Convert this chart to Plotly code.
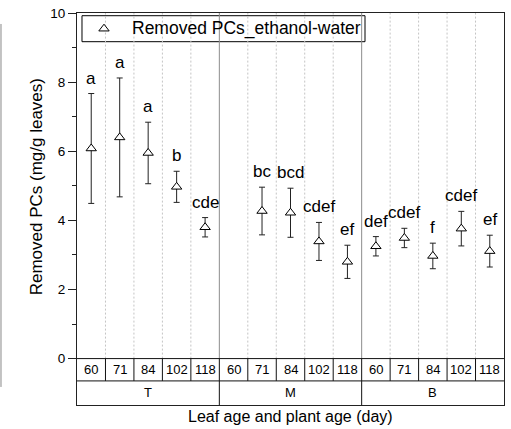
import plotly.graph_objects as go

# ---------------- data ----------------
groups = ["T", "M", "B"]
ages = ["60", "71", "84", "102", "118"]

mean_T = [6.08, 6.40, 5.95, 4.97, 3.80]
err_T = [1.59, 1.72, 0.89, 0.45, 0.28]
mean_M = [None, 4.27, 4.22, 3.39, 2.80]
err_M = [None, 0.69, 0.71, 0.55, 0.48]
mean_B = [3.25, 3.49, 2.97, 3.76, 3.11]
err_B = [0.28, 0.28, 0.37, 0.50, 0.46]

letters_T = ["a", "a", "a", "b", "cde"]
letters_M = ["", "bc", "bcd", "cdef", "ef"]
letters_B = ["def", "cdef", "f", "cdef", "ef"]

series_name = "Removed PCs_ethanol-water"
y_title = "Removed PCs (mg/g leaves)"
x_title = "Leaf age and plant age (day)"

# ---------------- build ----------------
means = mean_T + mean_M + mean_B
errs = [e if e is not None else 0 for e in (err_T + err_M + err_B)]
letters = letters_T + letters_M + letters_B
n = len(means)
ng = len(ages)
xs = [i + 0.5 for i in range(n)]

FONT = "Arial, Liberation Sans, sans-serif"
ROW1 = -0.646
YMIN = -1.343

MARKER = dict(symbol="triangle-up", size=9, color="white",
              line=dict(color="black", width=1))

fig = go.Figure()
fig.add_trace(go.Scatter(
    x=xs, y=means, mode="markers", name=series_name,
    marker=MARKER,
    error_y=dict(type="data", array=errs, visible=True,
                 color="#222", thickness=1, width=3),
    showlegend=False,
))

# legend key (drawn on an overlay axis spanning the plot area as [0,1])
LEG_X0, LEG_X1, LEG_Y0, LEG_Y1 = 0.0117, 0.6745, 0.9268, 0.9931
fig.add_trace(go.Scatter(
    x=[0.0632], y=[(LEG_Y0 + LEG_Y1) / 2], xaxis="x2", yaxis="y2",
    mode="markers", marker=MARKER, showlegend=False, hoverinfo="skip",
))

shapes = []
# vertical grid lines in plot area
for i in range(1, n):
    if i % ng == 0:
        shapes.append(dict(type="line", xref="x", yref="y", x0=i, x1=i, y0=0, y1=10,
                           line=dict(color="#8c8c8c", width=1), layer="below"))
    else:
        shapes.append(dict(type="line", xref="x", yref="y", x0=i, x1=i, y0=0, y1=10,
                           line=dict(color="#c4c4c4", width=1, dash="2px,2px"), layer="below"))
# legend box (on top of grid lines, below markers)
shapes.append(dict(type="rect", xref="x domain", yref="y domain",
                   x0=LEG_X0, x1=LEG_X1, y0=LEG_Y0, y1=LEG_Y1,
                   fillcolor="white", line=dict(color="black", width=1), layer="below"))
# table lines
shapes.append(dict(type="line", xref="x", yref="y", x0=0, x1=n, y0=0, y1=0,
                   line=dict(color="#111", width=1)))
shapes.append(dict(type="line", xref="x", yref="y", x0=0, x1=n, y0=ROW1, y1=ROW1,
                   line=dict(color="#111", width=1)))
for i in range(1, n):
    shapes.append(dict(type="line", xref="x", yref="y", x0=i, x1=i, y0=ROW1, y1=0,
                       line=dict(color="#111", width=1)))
    if i % ng == 0:
        shapes.append(dict(type="line", xref="x", yref="y", x0=i, x1=i, y0=YMIN, y1=ROW1,
                           line=dict(color="#111", width=1)))
# stray gray line at far left
shapes.append(dict(type="line", xref="paper", yref="paper", x0=-0.178, x1=-0.178,
                   y0=0.046, y1=0.972, line=dict(color="#888", width=1)))

annotations = []
# significance letters
for x, m, e, t in zip(xs, means, errs, letters):
    if m is None or not t:
        continue
    annotations.append(dict(x=x, y=m + e, xref="x", yref="y", text=t, showarrow=False,
                            xanchor="center", yanchor="bottom", yshift=4,
                            font=dict(family=FONT, size=17, color="black")))
# table text
for gi, g in enumerate(groups):
    for ai, a in enumerate(ages):
        annotations.append(dict(x=gi * ng + ai + 0.5, y=ROW1 / 2, xref="x", yref="y",
                                text=a, showarrow=False, xanchor="center", yanchor="middle",
                                font=dict(family=FONT, size=13, color="black")))
    annotations.append(dict(x=gi * ng + ng / 2, y=(ROW1 + YMIN) / 2, xref="x", yref="y",
                            text=g, showarrow=False, xanchor="center", yanchor="middle",
                            font=dict(family=FONT, size=13, color="black")))
# legend text
annotations.append(dict(x=0.1241, y=(LEG_Y0 + LEG_Y1) / 2, xref="paper", yref="paper",
                        text=series_name, showarrow=False, xanchor="left", yanchor="middle",
                        font=dict(family=FONT, size=17.5, color="black")))
# axis titles
annotations.append(dict(x=-0.0948, y=4.97, xref="paper", yref="y", text=y_title,
                        textangle=-90, showarrow=False, xanchor="center", yanchor="middle",
                        font=dict(family=FONT, size=17, color="black")))
annotations.append(dict(x=0.5, y=-0.03, xref="paper", yref="paper", text=x_title,
                        showarrow=False, xanchor="center", yanchor="middle",
                        font=dict(family=FONT, size=16, color="black")))

fig.update_layout(
    width=511, height=429,
    margin=dict(l=77, r=7, t=13, b=24, pad=0),
    paper_bgcolor="white", plot_bgcolor="white",
    font=dict(family=FONT, size=13, color="black"),
    shapes=shapes, annotations=annotations,
    showlegend=False,
    xaxis=dict(range=[0, n], showgrid=False, zeroline=False, showticklabels=False,
               ticks="", showline=True, linecolor="#222", linewidth=1, mirror=True,
               automargin=False),
    yaxis=dict(range=[YMIN, 10], showgrid=False, zeroline=False,
               tickmode="array", tickvals=[0, 2, 4, 6, 8, 10],
               ticks="outside", ticklen=8, tickwidth=1, tickcolor="#222",
               tickfont=dict(family=FONT, size=13.5, color="black"),
               showline=True, linecolor="#222", linewidth=1, mirror=True,
               minor=dict(tickmode="array", tickvals=[1, 3, 5, 7, 9], ticks="outside",
                          ticklen=4, tickwidth=1, tickcolor="#222"),
               automargin=False),
    xaxis2=dict(overlaying="x", range=[0, 1], visible=False, fixedrange=True),
    yaxis2=dict(overlaying="y", range=[0, 1], visible=False, fixedrange=True),
)

fig.write_html("out.html", config={"displayModeBar": False},
               post_script="document.body.style.margin='0px';")
